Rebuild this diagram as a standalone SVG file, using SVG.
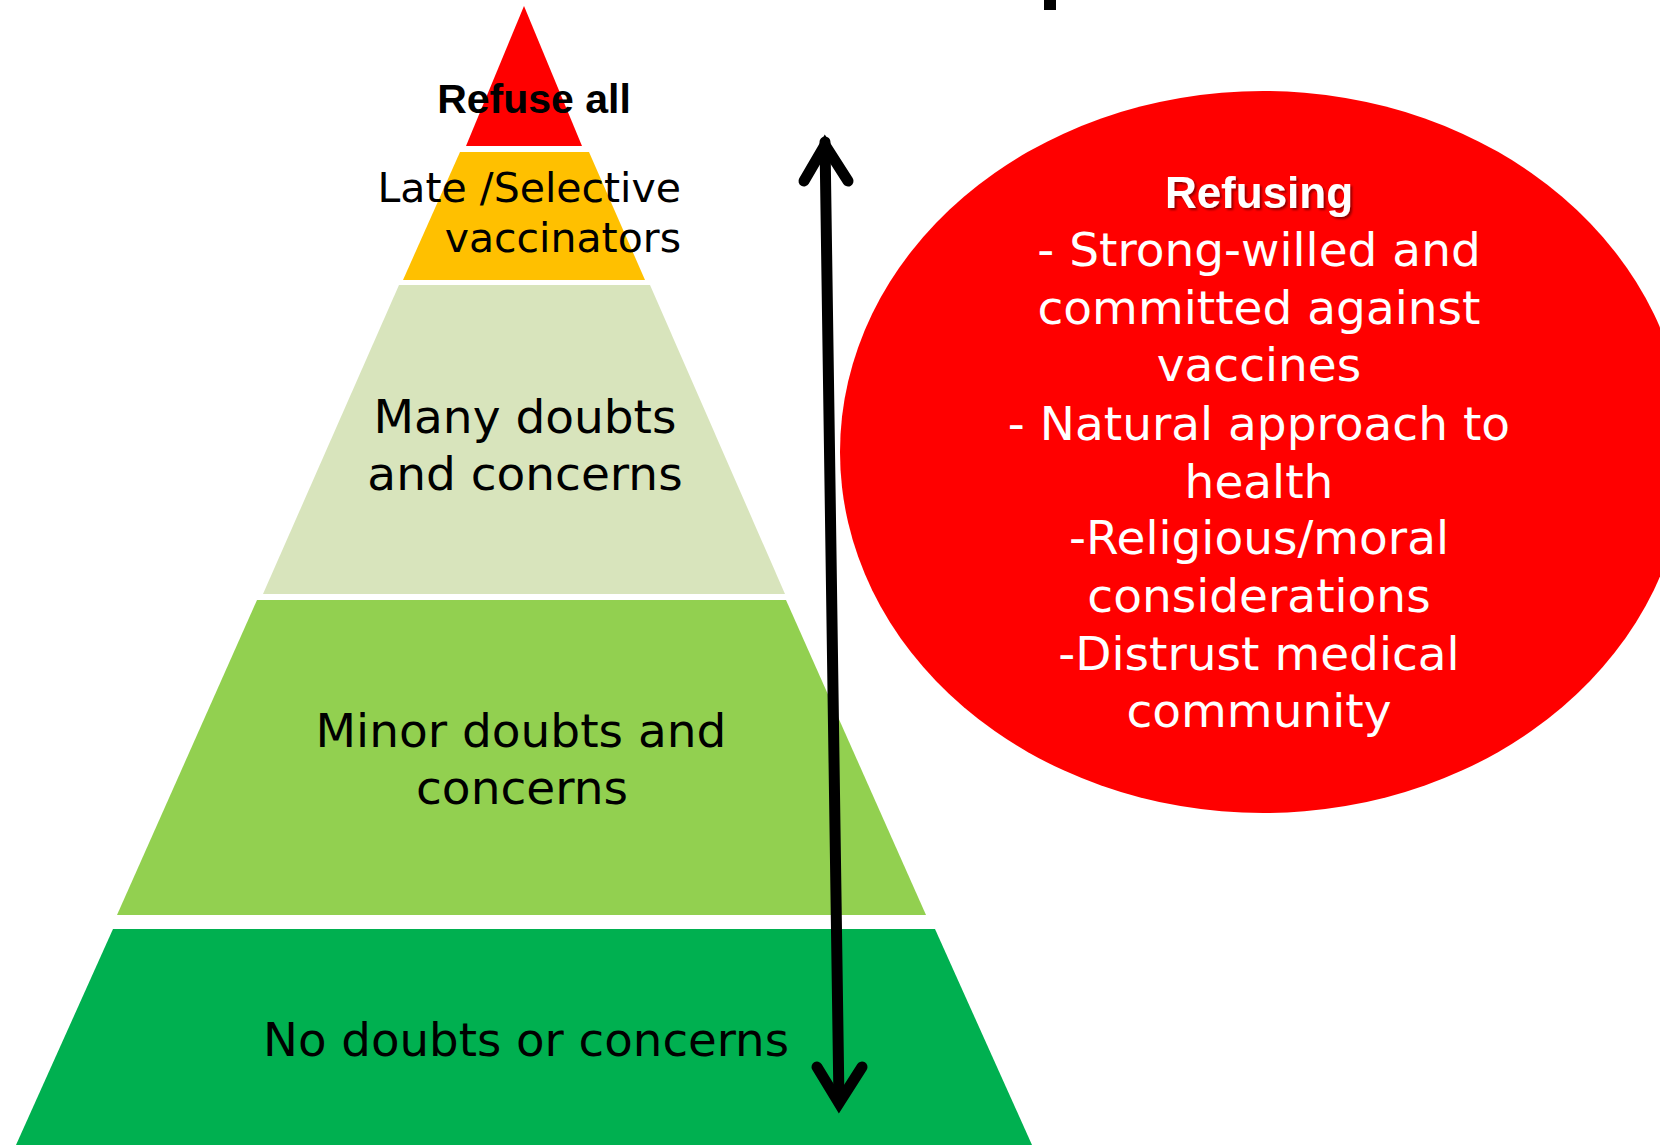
<svg xmlns="http://www.w3.org/2000/svg" width="1660" height="1145" viewBox="0 0 1660 1145">
<defs>
<style>
.lbl{font-family:"DejaVu Sans","Liberation Sans",sans-serif;fill:#000;}
.wt{font-family:"DejaVu Sans","Liberation Sans",sans-serif;fill:#fff;font-size:47px;text-anchor:middle;}
.bold{font-family:"Liberation Sans",Arial,sans-serif;font-weight:bold;}
.arr{fill:none;stroke:#000;stroke-width:11;stroke-linecap:round;stroke-linejoin:miter;stroke-miterlimit:10;}
</style>
<filter id="shadow" x="-10%" y="-20%" width="130%" height="150%">
<feDropShadow dx="2" dy="2" stdDeviation="1" flood-color="#000" flood-opacity="0.45"/>
</filter>
</defs>
<rect x="0" y="0" width="1660" height="1145" fill="#fff"/>
<rect x="1044" y="0" width="12" height="10" fill="#000"/>

<g id="tier-refuse">
<polygon points="524,6 582,146 466,146" fill="#FF0000"/>
<text class="bold" x="534" y="113" font-size="41" text-anchor="middle" fill="#000">Refuse all</text>
</g>
<g id="tier-late">
<polygon points="460,152 589,152 645,280 403,280" fill="#FFC000"/>
<text class="lbl" x="681" y="202" font-size="41" text-anchor="end">Late /Selective</text>
<text class="lbl" x="681" y="252" font-size="41" text-anchor="end">vaccinators</text>
</g>
<g id="tier-many">
<polygon points="399,285 650,285 785,594 263,594" fill="#D8E4BC"/>
<text class="lbl" x="525" y="433" font-size="47" text-anchor="middle">Many doubts</text>
<text class="lbl" x="525" y="490" font-size="47" text-anchor="middle">and concerns</text>
</g>
<g id="tier-minor">
<polygon points="257,600 786,600 926,915 117,915" fill="#92D050"/>
<text class="lbl" x="521" y="747" font-size="47" text-anchor="middle">Minor doubts and</text>
<text class="lbl" x="522" y="804" font-size="47" text-anchor="middle">concerns</text>
</g>
<g id="tier-none">
<polygon points="113,929 935,929 1032,1145 16,1145" fill="#00B050"/>
<text class="lbl" x="526" y="1056" font-size="47" text-anchor="middle" textLength="526" lengthAdjust="spacingAndGlyphs">No doubts or concerns</text>
</g>

<g id="connectors">
<line class="arr" x1="825" y1="142" x2="839" y2="1102"/>
<polyline class="arr" points="804,181 825,145 848,181"/>
<polyline class="arr" points="817,1067 839,1103 862,1067"/>
</g>

<g id="refusing-ellipse">
<ellipse cx="1263" cy="452" rx="423" ry="361" fill="#FF0000"/>
<text class="bold" x="1259" y="208" font-size="44" text-anchor="middle" fill="#fff" filter="url(#shadow)">Refusing</text>
<text class="wt" x="1259" y="266">- Strong-willed and</text>
<text class="wt" x="1259" y="324">committed against</text>
<text class="wt" x="1259" y="381">vaccines</text>
<text class="wt" x="1259" y="440">- Natural approach to</text>
<text class="wt" x="1259" y="498">health</text>
<text class="wt" x="1259" y="554">-Religious/moral</text>
<text class="wt" x="1259" y="612">considerations</text>
<text class="wt" x="1259" y="670">-Distrust medical</text>
<text class="wt" x="1259" y="727">community</text>
</g>
</svg>
